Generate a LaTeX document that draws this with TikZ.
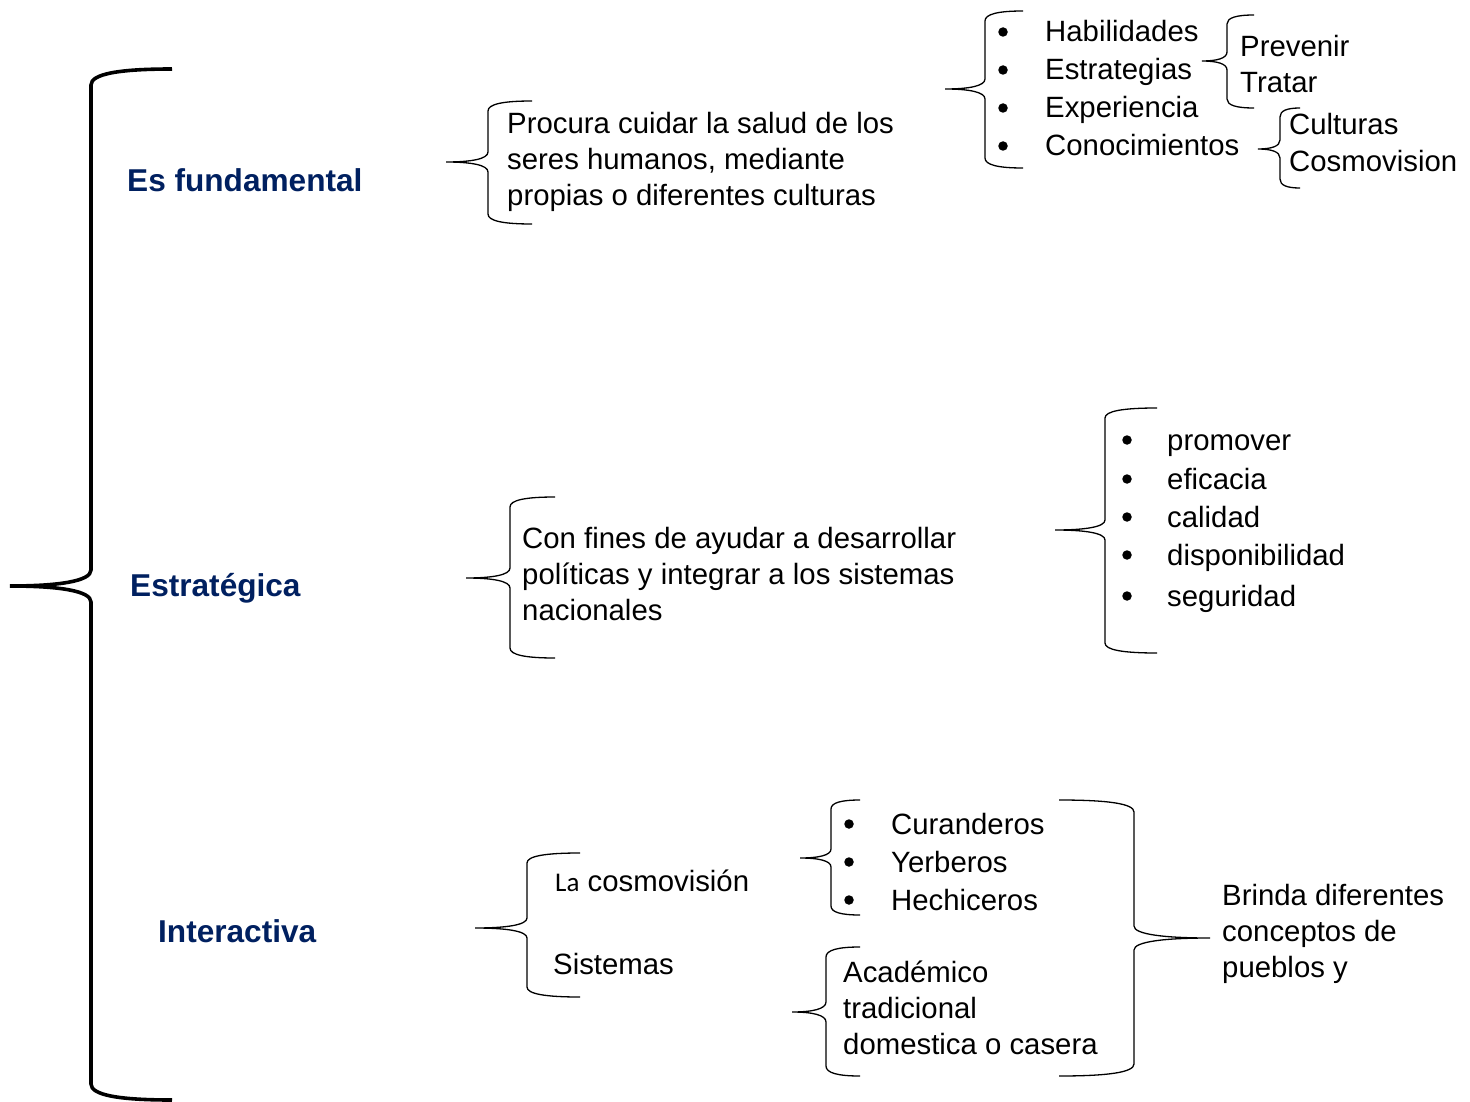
\documentclass[tikz,border=0pt]{standalone}
\usepackage{fontspec}
\setmainfont{Liberation Sans}
\newfontfamily\carl{Carlito}
\definecolor{navy}{HTML}{002060}
\tikzset{
 txt/.style={anchor=base west, inner sep=0pt, font=\fontsize{29.35}{36}\selectfont},
 lbl/.style={anchor=base west, inner sep=0pt, font=\fontsize{31.6}{38}\selectfont\bfseries, text=navy},
 brc/.style={draw=black, line width=1.3pt},
 bigbrc/.style={draw=black, line width=3.6pt},
 bul/.style={circle, fill=black, inner sep=0pt, minimum size=9.5pt},
}
% #1 style, #2 vx, #3 top, #4 bot, #5 tipx, #6 tipy, #7 endx, #8 r
\newcommand\mybrc[8]{%
\draw[#1] (#7,#3) .. controls ({#2+(#7-#2)*0.35},#3) and (#2,{#3+#8*0.3}) .. (#2,{#3+#8})
 -- (#2,{#6-#8}) .. controls (#2,{#6-#8*0.3}) and ({#2+(#5-#2)*0.4},#6) .. (#5,#6)
 .. controls ({#2+(#5-#2)*0.4},#6) and (#2,{#6+#8*0.3}) .. (#2,{#6+#8})
 -- (#2,{#4-#8}) .. controls (#2,{#4-#8*0.3}) and ({#2+(#7-#2)*0.35},#4) .. (#7,#4);}
\begin{document}
\begin{tikzpicture}[x=1pt,y=-1pt]
\useasboundingbox[fill=white] (0,0) rectangle (1470,1102);
% big brace
\mybrc{bigbrc}{91}{69}{1100}{10}{586}{172}{16}
\node[lbl] (l1) at (127,192) {Es fundamental};
\node[lbl] (l2) at (130,596) {Estratégica};
\node[lbl] (l3) at (158,942) {Interactiva};
% block 1
\mybrc{brc}{488}{101}{224}{446}{162}{532}{10}
\node[txt] (p1) at (507,134) {Procura cuidar la salud de los};
\node[txt] (p2) at (507,170) {seres humanos, mediante};
\node[txt] (p3) at (507,206) {propias o diferentes culturas};
\mybrc{brc}{985}{11}{168}{945}{89}{1023}{10}
\foreach \y/\t [count=\i] in {32/Habilidades,70/Estrategias,108/Experiencia,146/Conocimientos}{
 \node[bul] (b1\i) at (1003,\y) {};
 \node[txt] (h\i) at (1045,\y+10) {\t};
}
\mybrc{brc}{1227}{15}{108}{1202}{61}{1254}{9}
\node[txt] (pr) at (1240,57) {Prevenir};
\node[txt] (tr) at (1240,93) {Tratar};
\mybrc{brc}{1280}{108}{188}{1258}{149}{1300}{9}
\node[txt] (cu) at (1289,135) {Culturas};
\node[txt] (co) at (1289,172) {Cosmovision};
% block 2
\mybrc{brc}{510}{497}{658}{466}{578}{555}{10}
\node[txt] (c1) at (522,548) {Con fines de ayudar a desarrollar};
\node[txt] (c2) at (522,584) {políticas y integrar a los sistemas};
\node[txt] (c3) at (522,620) {nacionales};
\mybrc{brc}{1105}{408}{653}{1055}{530}{1157}{10}
\foreach \y/\t [count=\i] in {440/promover,479/eficacia,517/calidad,555/disponibilidad,596/seguridad}{
 \node[bul] (b2\i) at (1127,\y) {};
 \node[txt] (e\i) at (1167,\y+10) {\t};
}
% block 3
\mybrc{brc}{527}{853}{997}{475}{928}{580}{10}
\node[txt] (lc) at (555,891) {{\carl\fontsize{27}{30}\selectfont La} cosmovisión};
\node[txt] (si) at (553,974) {Sistemas};
\mybrc{brc}{831}{800}{915}{800}{858}{860}{9}
\foreach \y/\t [count=\i] in {824/Curanderos,862/Yerberos,900/Hechiceros}{
 \node[bul] (b3\i) at (849,\y) {};
 \node[txt] (k\i) at (891,\y+10) {\t};
}
\mybrc{brc}{826}{947}{1076}{792}{1012}{860}{10}
\node[txt] (a1) at (843,982) {Académico};
\node[txt] (a2) at (843,1018) {tradicional};
\node[txt] (a3) at (843,1054) {domestica o casera};
\mybrc{brc}{1134}{800}{1076}{1210}{938}{1059}{12}
\node[txt] (r1) at (1222,905) {Brinda diferentes};
\node[txt] (r2) at (1222,941) {conceptos de};
\node[txt] (r3) at (1222,977) {pueblos y};
\end{tikzpicture}
\end{document}
